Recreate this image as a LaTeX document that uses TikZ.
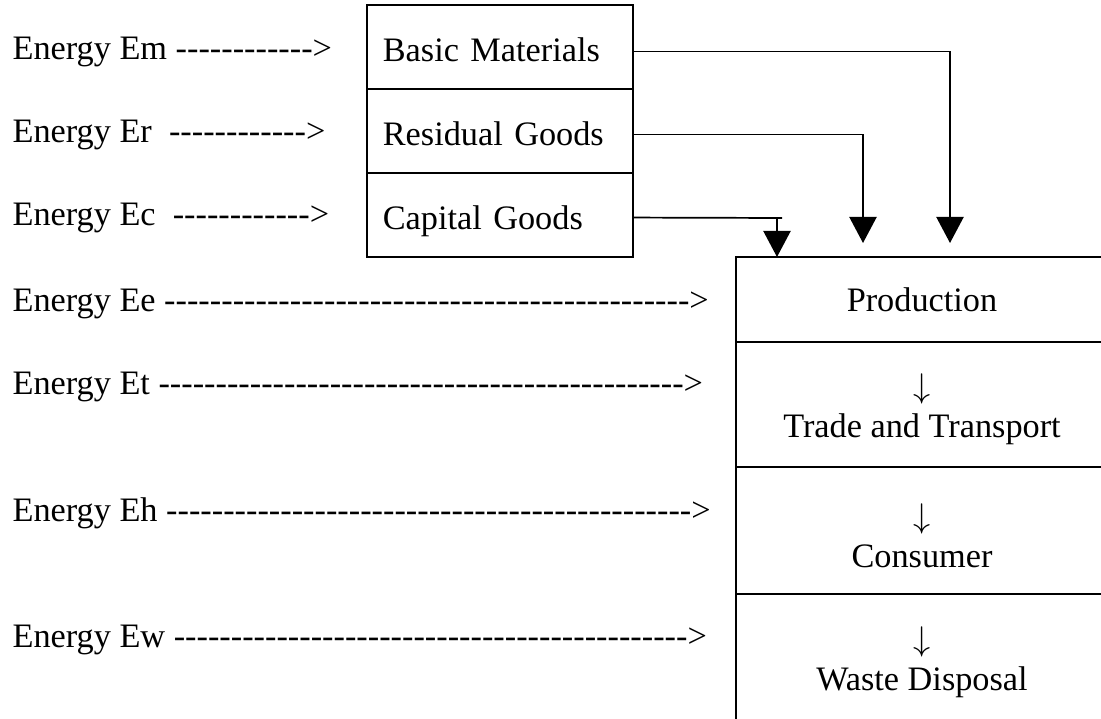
\documentclass[tikz,border=0pt]{standalone}
\usepackage{fontspec}
\setmainfont{Liberation Serif}[Ligatures=TeXOff]
\usetikzlibrary{arrows.meta,positioning}

\begin{document}
\begin{tikzpicture}[
  x=0.35pt,y=-0.35pt,
  font=\fontsize{12pt}{14pt}\selectfont,
  energy/.style={inner sep=0pt,anchor=base west},
  matbox/.style={rectangle,draw,line width=0.7pt,outer sep=0pt,minimum width=93.1pt,minimum height=29.4pt,text width=82pt,align=left,inner xsep=0pt,text height=10pt,text depth=0pt},
  stagebox/.style={rectangle,draw,line width=0.7pt,outer sep=0pt,minimum width=130.2pt,align=center},
  link/.style={line width=0.6pt},
  flow/.style={line width=0.6pt,-{Triangle[length=9.1pt,width=9.5pt]}}
]
  \useasboundingbox (0,0) rectangle (1101,719);
  \clip (0,0) rectangle (1101,719);

  % energy inputs
  \node[energy] (em) at (12,60) {Energy Em ------------>};
  \node[energy] (er) at (12,143) {Energy Er\ \ ------------>};
  \node[energy] (ec) at (12,226) {Energy Ec\ \ ------------>};
  \node[energy] (ee) at (12,312) {Energy Ee ---------------------------------------------->};
  \node[energy] (et) at (12,395) {Energy Et ---------------------------------------------->};
  \node[energy] (eh) at (12,522) {Energy Eh ---------------------------------------------->};
  \node[energy] (ew) at (12,648) {Energy Ew --------------------------------------------->};

  % goods
  \node[matbox,anchor=north west] (bm) at (367,5) {Basic Materials};
  \node[matbox,below=0pt of bm] (rg) {Residual Goods};
  \node[matbox,below=0pt of rg] (cg) {Capital Goods};

  % chain
  \node[stagebox,anchor=north west,minimum height=29.75pt] (prod) at (736,257) {Production};
  \node[stagebox,below=0pt of prod,minimum height=43.75pt] (trade) {\rule{0pt}{12pt}$\downarrow$\\Trade and Transport};
  \node[stagebox,below=0pt of trade,minimum height=44.45pt] (cons) {\rule{0pt}{12pt}$\downarrow$\\Consumer};
  \node[stagebox,below=0pt of cons,minimum height=44.45pt] (waste) {\rule{0pt}{12pt}$\downarrow$\\Waste Disposal};

  \coordinate (bmtip) at (950,243);
  \coordinate (rgtip) at (863,243);
  \coordinate (cgtip) at (777,257);
  \coordinate (cgend) at (782,218);

  \draw[flow] ([yshift=-1.6pt]bm.east) -| (bmtip);
  \draw[flow] ([yshift=-1.2pt]rg.east) -| (rgtip);
  \draw[link] ([yshift=-0.9pt]cg.east) -- (cgend);
  \draw[flow] (cgend -| cgtip) -- (cgtip);
\end{tikzpicture}
\end{document}
